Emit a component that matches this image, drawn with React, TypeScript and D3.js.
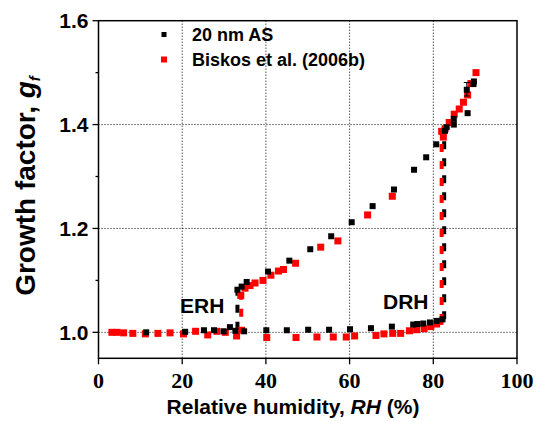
import React from "react";
import * as d3 from "d3";

const xTicks = [0, 20, 40, 60, 80, 100];
const yTicks = [1.0, 1.2, 1.4, 1.6];
const yMinorTicks = [1.1, 1.3, 1.5];
const xGrid = [20, 40, 60, 80];
const yGrid = [1.0, 1.2, 1.4];

// 20 nm AS (black)
const blackRH = [
  11.4, 20.7, 25.2, 27.6, 29.9, 31.4, 32.7, 34.8, 40.1, 45.0, 50.1, 55.1, 60.1, 65.1, 70.1, 75.2, 76.2, 77.6, 79.2, 80.8, 82.2,
  89.7, 89.6, 88.0, 88.2, 84.9, 84.9, 83.2, 82.8, 80.7, 78.3, 75.4, 70.6, 65.5, 60.5, 55.6, 50.6, 45.6, 40.5, 35.4, 34.2, 33.2,
];
const blackGf = [
  1.0, 1.001, 1.004, 1.004, 1.002, 1.01, 1.003, 1.002, 1.004, 1.004, 1.005, 1.005, 1.006, 1.008, 1.011, 1.015, 1.016, 1.017, 1.019, 1.022, 1.025,
  1.483, 1.478, 1.467, 1.422, 1.411, 1.4, 1.395, 1.388, 1.362, 1.337, 1.313, 1.275, 1.243, 1.212, 1.185, 1.16, 1.138, 1.117, 1.097, 1.088, 1.082,
];

// Biskos et al. (2006b) (red)
const redRH = [
  3.2, 4.4, 6.0, 8.2, 11.2, 14.2, 17.1, 20.3, 23.2, 26.1, 28.3, 30.3, 33.0, 34.2, 40.2, 47.2, 52.2, 56.1, 59.2, 61.2, 66.3, 68.2, 70.3, 72.2, 74.3, 76.0, 77.8, 79.4, 80.8, 81.6,
  90.2, 89.0, 88.2, 87.2, 86.2, 85.0, 83.8, 82.8, 82.4, 82.0, 70.2, 64.3, 57.2, 53.1, 47.1, 44.2, 43.0, 41.2, 39.3, 37.4, 36.2, 35.0, 34.0,
];
const redGf = [
  1.0, 1.0, 0.999, 0.998, 0.997, 0.998, 0.999, 0.997, 1.002, 0.995, 1.002, 1.0, 0.993, 1.004, 0.99, 0.99, 0.991, 0.991, 0.991, 0.993, 0.994, 0.997, 0.998, 0.998, 1.003, 1.005, 1.007, 1.011, 1.016, 1.021,
  1.5, 1.479, 1.457, 1.443, 1.43, 1.42, 1.404, 1.392, 1.376, 1.387, 1.262, 1.226, 1.176, 1.164, 1.133, 1.121, 1.118, 1.11, 1.1, 1.095, 1.09, 1.085, 1.071,
];

// Phase transitions (dashed vertical segments)
const transSeries = ["black", "red", "black", "red"];
const transRH = [82.6, 82.0, 33.2, 34.1];
const transLow = [1.025, 1.02, 1.005, 1.03];
const transHigh = [1.385, 1.38, 1.08, 1.07];

// error bar on one point
const errRH = [88.0];
const errLow = [1.455];
const errHigh = [1.481];

const legendLabels = ["20 nm AS", "Biskos et al. (2006b)"];
const colors: Record<string, string> = { black: "#000000", red: "#ff0000" };

export default function App() {
  const W = 539, H = 421;
  const left = 98.5, right = 517, top = 20.7, bottom = 358.3;
  const x = d3.scaleLinear().domain([0, 100]).range([left, right]);
  const y = d3.scaleLinear().domain([0.95, 1.6]).range([bottom, top]);
  const sans = "'Liberation Sans', Arial, sans-serif";
  const serif = "'Liberation Serif', 'Times New Roman', serif";

  const black = blackRH.map((v, i) => [v, blackGf[i]]);
  const red = redRH.map((v, i) => [v, redGf[i]]);
  const bs = 6, rs = 7;

  return (
    <svg width={W} height={H} style={{ position: "absolute", left: 0, top: 0, background: "#fff" }}>
      <rect x={0} y={0} width={W} height={H} fill="#fff" />
      {/* grid */}
      {xGrid.map((g) => (
        <line key={"xg" + g} x1={x(g)} x2={x(g)} y1={top} y2={bottom} stroke="#000" strokeWidth={1} strokeDasharray="1 2" />
      ))}
      {yGrid.map((g) => (
        <line key={"yg" + g} x1={left} x2={right} y1={y(g)} y2={y(g)} stroke="#000" strokeWidth={1} strokeDasharray="1 2" />
      ))}
      {/* transitions */}
      {transRH.map((v, i) => (
        <line key={"tr" + i} x1={x(v)} x2={x(v)} y1={y(transLow[i])} y2={y(transHigh[i])}
          stroke={colors[transSeries[i]]} strokeWidth={4} strokeDasharray="8 9" />
      ))}
      {/* red points */}
      {red.map((d, i) => (
        <rect key={"r" + i} x={x(d[0]) - rs / 2} y={y(d[1]) - rs / 2} width={rs} height={rs} fill="#ff0000" />
      ))}
      {/* black points */}
      {black.map((d, i) => (
        <rect key={"b" + i} x={x(d[0]) - bs / 2} y={y(d[1]) - bs / 2} width={bs} height={bs} fill="#000" />
      ))}
      {errRH.map((v, i) => (
        <g key={"e" + i} stroke="#000" strokeWidth={1}>
          <line x1={x(v)} x2={x(v)} y1={y(errLow[i])} y2={y(errHigh[i])} />
          <line x1={x(v) - 3} x2={x(v) + 3} y1={y(errLow[i])} y2={y(errLow[i])} />
          <line x1={x(v) - 3} x2={x(v) + 3} y1={y(errHigh[i])} y2={y(errHigh[i])} />
        </g>
      ))}
      {/* frame */}
      <rect x={left} y={top} width={right - left} height={bottom - top} fill="none" stroke="#000" strokeWidth={1.5} />
      {/* x ticks */}
      {xTicks.map((t) => (
        <g key={"xt" + t}>
          <line x1={x(t)} x2={x(t)} y1={bottom} y2={bottom + 6} stroke="#000" strokeWidth={1.3} />
          <text x={x(t)} y={388} textAnchor="middle" fontFamily={serif} fontWeight="bold" fontSize={22}>{t}</text>
        </g>
      ))}
      {/* y ticks */}
      {yTicks.map((t) => (
        <g key={"yt" + t}>
          <line x1={left - 6} x2={left} y1={y(t)} y2={y(t)} stroke="#000" strokeWidth={1.3} />
          <text x={88.5} y={y(t) + 7.5} textAnchor="end" fontFamily={sans} fontWeight="bold" fontSize={21}>{t.toFixed(1)}</text>
        </g>
      ))}
      {yMinorTicks.map((t) => (
        <line key={"ym" + t} x1={left - 3} x2={left} y1={y(t)} y2={y(t)} stroke="#000" strokeWidth={1.3} />
      ))}
      {/* axis titles */}
      <text x={293} y={414} textAnchor="middle" fontFamily={sans} fontWeight="bold" fontSize={21}>
        Relative humidity, <tspan fontStyle="italic">RH</tspan> (%)
      </text>
      <text transform={`translate(35,186) rotate(-90)`} textAnchor="middle" fontFamily={sans} fontWeight="bold" fontSize={28}>
        Growth factor, <tspan fontStyle="italic">g</tspan><tspan fontStyle="italic" fontSize={15} dy={5}>f</tspan>
      </text>
      {/* legend */}
      <rect x={161.5} y={32} width={5} height={5} fill="#000" />
      <text x={192} y={41} fontFamily={sans} fontWeight="bold" fontSize={18}>{legendLabels[0]}</text>
      <rect x={161} y={56.5} width={6} height={6} fill="#ff0000" />
      <text x={192} y={65.5} fontFamily={sans} fontWeight="bold" fontSize={18}>{legendLabels[1]}</text>
      {/* annotations */}
      <text x={180} y={313} fontFamily={sans} fontWeight="bold" fontSize={21}>ERH</text>
      <text x={383} y={309} fontFamily={sans} fontWeight="bold" fontSize={21}>DRH</text>
    </svg>
  );
}
